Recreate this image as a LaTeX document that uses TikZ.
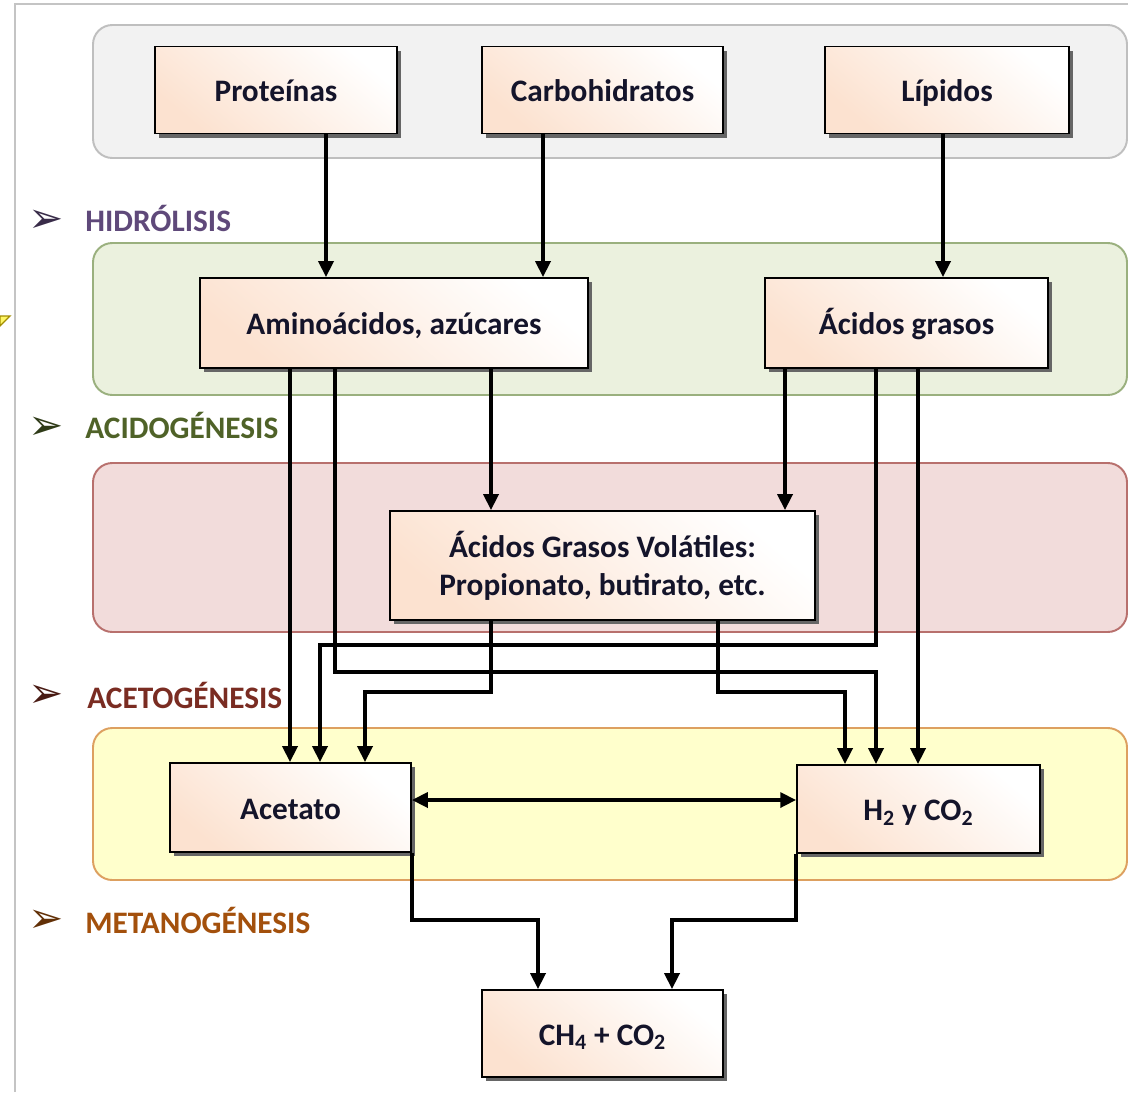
\documentclass[tikz,border=0pt]{standalone}
\usepackage{fontspec}
\setmainfont{Carlito}
\newfontfamily\dejavu{DejaVu Sans}
\usetikzlibrary{arrows.meta,shadows}
\definecolor{peach}{HTML}{FCE2D0}
\definecolor{txt}{HTML}{14142A}
\definecolor{frame}{HTML}{C4C4C4}
\definecolor{grayfill}{HTML}{F2F2F2}
\definecolor{graydraw}{HTML}{BFBFBF}
\definecolor{greenfill}{HTML}{EBF1DE}
\definecolor{greendraw}{HTML}{9AB07E}
\definecolor{pinkfill}{HTML}{F2DCDB}
\definecolor{pinkdraw}{HTML}{B8706D}
\definecolor{yelfill}{HTML}{FFFFCC}
\definecolor{yeldraw}{HTML}{DDA060}
\definecolor{hidc}{HTML}{5F497A}
\definecolor{acic}{HTML}{4F6228}
\definecolor{acec}{HTML}{7A2C22}
\definecolor{metc}{HTML}{A3500C}
\begin{document}
\begin{tikzpicture}[x=0.02cm,y=-0.02cm,
  box/.style={draw=black, line width=1.1pt, inner sep=0pt, align=center,
    font=\bfseries\fontsize{17.8}{21.6}\selectfont, text=txt,
    bottom color=peach, top color=white, shading angle=-40,
    drop shadow={shadow xshift=2.4pt, shadow yshift=-2.4pt, fill=black!60, opacity=1}},
  oneline/.style={text height=15.5pt, text depth=2pt},
  stagetxt/.style={anchor=west, inner sep=0pt, font=\bfseries\fontsize{17.8}{20}\selectfont},
  bulletmark/.style={inner sep=0pt, font=\dejavu\fontsize{24}{26}\selectfont},
  arr/.style={line width=2pt, -{Triangle[length=9pt,width=8.5pt]}},
  arr2/.style={line width=2pt, {Triangle[length=9pt,width=8.5pt]}-{Triangle[length=9pt,width=8.5pt]}},
  group/.style={line width=1.1pt, rounded corners=11pt}]
\useasboundingbox (0,0) rectangle (1128,1092);
\fill[white] (0,0) rectangle (1128,1092);
% frame
\draw[frame, line width=1.2pt] (15,1092) -- (15,4) -- (1128,4);
% cut-off mark at left edge
\filldraw[fill=yellow!60!white, draw=olive!80!orange, line width=0.8pt] (0,316) -- (10,316) -- (0,326) -- cycle;
% stage bands
\draw[group, fill=grayfill, draw=graydraw] (93,25) rectangle (1127,158);
\draw[group, fill=greenfill, draw=greendraw] (93,243) rectangle (1127,395);
\draw[group, fill=pinkfill, draw=pinkdraw] (93,463) rectangle (1127,632);
\draw[group, fill=yelfill, draw=yeldraw] (93,728) rectangle (1127,880);
% stage labels
\node[bulletmark, text=hidc!60!black] (b1) at (46,221) {➢};
\node[stagetxt, text=hidc] (l1) at (85,218) {HIDRÓLISIS};
\node[bulletmark, text=acic!60!black] (b2) at (46,428) {➢};
\node[stagetxt, text=acic] (l2) at (85,425) {ACIDOGÉNESIS};
\node[bulletmark, text=acec!60!black] (b3) at (46,696) {➢};
\node[stagetxt, text=acec] (l3) at (87,695) {ACETOGÉNESIS};
\node[bulletmark, text=metc!60!black] (b4) at (46,921) {➢};
\node[stagetxt, text=metc] (l4) at (85,920) {METANOGÉNESIS};
% boxes
\node[box, oneline, minimum width=4.84cm, minimum height=1.74cm] (prot) at (276,90) {Proteínas};
\node[box, oneline, minimum width=4.82cm, minimum height=1.74cm] (carb) at (602.5,90) {Carbohidratos};
\node[box, oneline, minimum width=4.88cm, minimum height=1.74cm] (lip) at (947,90) {Lípidos};
\node[box, oneline, minimum width=7.76cm, minimum height=1.80cm] (amino) at (394,323) {Aminoácidos, azúcares};
\node[box, oneline, minimum width=5.66cm, minimum height=1.80cm] (acidos) at (906.5,323) {Ácidos grasos};
\node[box, minimum width=8.50cm, minimum height=2.18cm] (agv) at (602.5,565.5) {Ácidos Grasos Volátiles:\\Propionato, butirato, etc.};
\node[box, oneline, minimum width=4.82cm, minimum height=1.78cm] (acet) at (290.5,807.5) {Acetato};
\node[box, oneline, minimum width=4.86cm, minimum height=1.76cm] (h2) at (918.5,809) {H\textsubscript{2} y CO\textsubscript{2}};
\node[box, oneline, minimum width=4.82cm, minimum height=1.74cm] (ch4) at (602.5,1033.5) {CH\textsubscript{4} + CO\textsubscript{2}};
% column and row guides
\coordinate (cA) at (326,0);
\coordinate (cB) at (543,0);
\coordinate (cC) at (943,0);
\coordinate (cD) at (491,0);
\coordinate (cE) at (785,0);
\coordinate (cF) at (290,0);
\coordinate (cG) at (335,0);
\coordinate (cH) at (876,0);
\coordinate (cI) at (918,0);
\coordinate (cJ) at (320,0);
\coordinate (cK) at (365,0);
\coordinate (cL) at (718,0);
\coordinate (cM) at (845,0);
\coordinate (cN) at (538,0);
\coordinate (cO) at (672,0);
\coordinate (yA) at (0,645);
\coordinate (yB) at (0,672);
\coordinate (yC) at (0,692);
\coordinate (yD) at (0,920);
\coordinate (yE) at (0,800);
% connectors
\draw[arr] (prot.south -| cA) -- (amino.north -| cA);
\draw[arr] (carb.south -| cB) -- (amino.north -| cB);
\draw[arr] (lip.south -| cC) -- (acidos.north -| cC);
\draw[arr] (amino.south -| cD) -- (agv.north -| cD);
\draw[arr] (acidos.south -| cE) -- (agv.north -| cE);
\draw[arr] (amino.south -| cF) -- (acet.north -| cF);
\draw[arr] (amino.south -| cG) -- (cG |- yB) -- (cH |- yB) -- (h2.north -| cH);
\draw[arr] (acidos.south -| cH) -- (cH |- yA) -- (cJ |- yA) -- (acet.north -| cJ);
\draw[arr] (acidos.south -| cI) -- (h2.north -| cI);
\draw[arr] (agv.south -| cD) -- (cD |- yC) -- (cK |- yC) -- (acet.north -| cK);
\draw[arr] (agv.south -| cL) -- (cL |- yC) -- (cM |- yC) -- (h2.north -| cM);
\draw[arr2] (acet.east |- yE) -- (h2.west |- yE);
\draw[arr] (acet.south east) -- (acet.south east |- yD) -- (cN |- yD) -- (ch4.north -| cN);
\draw[arr] (h2.south west) -- (h2.south west |- yD) -- (cO |- yD) -- (ch4.north -| cO);
\end{tikzpicture}
\end{document}
